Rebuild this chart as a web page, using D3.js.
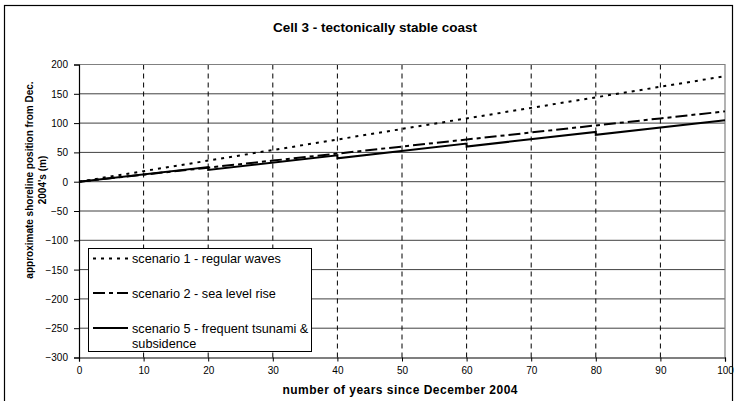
<!DOCTYPE html>
<html>
<head>
<meta charset="utf-8">
<script src="https://cdn.jsdelivr.net/npm/d3@7"></script>
<style>
  html, body { margin: 0; padding: 0; background: #fff; }
  svg { display: block; font-family: "Liberation Sans", Arial, sans-serif; }
</style>
</head>
<body>
<svg id="chart" width="734" height="401"></svg>
<script>
// ---- data ----
const chartTitle = "Cell 3 - tectonically stable coast";
const xTitle = "number of years since December 2004";
const yTitleLines = ["approximate shoreline position from Dec.", "2004's (m)"];
const xTicks = [0, 10, 20, 30, 40, 50, 60, 70, 80, 90, 100];
const yTicks = [-300, -250, -200, -150, -100, -50, 0, 50, 100, 150, 200];

const seriesNames = [
  "scenario 1 - regular waves",
  "scenario 2 - sea level rise",
  "scenario 5 - frequent tsunami & subsidence"
];
// scenario 1 and 2: values per decade
const s1Years = [0, 10, 20, 30, 40, 50, 60, 70, 80, 90, 100];
const s1Values = [0, 18, 36, 54, 72, 90, 108, 126, 144, 162, 180];
const s2Years = [0, 10, 20, 30, 40, 50, 60, 70, 80, 90, 100];
const s2Values = [0, 12, 24, 36, 48, 60, 72, 84, 96, 108, 120];
// scenario 5: steady advance with sudden drops every 20 years
const s5Years = [0, 20, 20, 40, 40, 60, 60, 80, 80, 100];
const s5Values = [0, 25, 20, 45, 40, 65, 60, 85, 80, 105];

// ---- layout ----
const svg = d3.select("#chart");
const L = 79, R = 725, T = 64.5, B = 357.5;
const x = d3.scaleLinear().domain([0, 100]).range([L, R]);
const y = d3.scaleLinear().domain([-300, 200]).range([B, T]);

// outer chart border
svg.append("rect").attr("x", 4.5).attr("y", 5.5).attr("width", 728).attr("height", 400)
  .attr("fill", "#fff").attr("stroke", "#000").attr("stroke-width", 1.2);

// horizontal gridlines
svg.append("g").selectAll("line").data(yTicks.filter(d => d > -300 && d < 200)).join("line")
  .attr("x1", L).attr("x2", R).attr("y1", d => y(d)).attr("y2", d => y(d))
  .attr("stroke", "#000").attr("stroke-width", 1).attr("stroke-opacity", 0.75);

// vertical dashed gridlines
svg.append("g").selectAll("line").data(xTicks.filter(d => d > 0 && d < 100)).join("line")
  .attr("x1", d => x(d)).attr("x2", d => x(d)).attr("y1", T).attr("y2", B)
  .attr("stroke", "#000").attr("stroke-width", 1).attr("stroke-dasharray", "5,4");

// plot area border (top & right gray)
svg.append("path")
  .attr("d", `M${L},${T}H${R}V${B}`)
  .attr("fill", "none").attr("stroke", "#808080").attr("stroke-width", 1.2);

// axes
const xAxis = d3.axisBottom(x).tickValues(xTicks).tickSize(4).tickPadding(5);
const yAxis = d3.axisLeft(y).tickValues(yTicks).tickSize(5).tickPadding(6);
const gx = svg.append("g").attr("transform", `translate(0,${B})`).call(xAxis);
const gy = svg.append("g").attr("transform", `translate(${L},0)`).call(yAxis);
[gx, gy].forEach(g => {
  g.select(".domain").attr("stroke", "#000").attr("stroke-width", 1.2);
  g.selectAll(".tick line").attr("stroke", "#000");
  g.selectAll(".tick text").attr("fill", "#000").attr("font-size", 10)
    .attr("font-family", "Liberation Sans, Arial, sans-serif");
});
gy.selectAll(".tick text").attr("dy", "0.34em");

// series lines
const line = d3.line().x(d => x(d[0])).y(d => y(d[1]));
const styles = [
  { dash: "3,5" },
  { dash: "12,4,4,4" },
  { dash: null }
];
const seriesData = [
  d3.zip(s1Years, s1Values),
  d3.zip(s2Years, s2Values),
  d3.zip(s5Years, s5Values)
];
seriesData.forEach((data, i) => {
  svg.append("path").datum(data).attr("d", line)
    .attr("fill", "none").attr("stroke", "#000").attr("stroke-width", 2)
    .attr("stroke-dasharray", styles[i].dash);
});

// legend
const lg = svg.append("g");
lg.append("rect").attr("x", 88.5).attr("y", 248.5).attr("width", 223).attr("height", 103)
  .attr("fill", "#fff").attr("stroke", "#000").attr("stroke-width", 1);
const rowsY = [258.5, 293, 328];
seriesNames.forEach((name, i) => {
  lg.append("line").attr("x1", 93).attr("x2", 128).attr("y1", rowsY[i]).attr("y2", rowsY[i])
    .attr("stroke", "#000").attr("stroke-width", 2).attr("stroke-dasharray", styles[i].dash);
  const words = i === 2 ? ["scenario 5 - frequent tsunami &", "subsidence"] : [name];
  const t = lg.append("text").attr("x", 132).attr("y", rowsY[i] + 4.5)
    .attr("font-size", 12.7).attr("fill", "#000");
  words.forEach((w, j) => t.append("tspan").attr("x", 132).attr("dy", j === 0 ? 0 : 15).text(w));
});

// title (centered on chart area)
svg.append("text").attr("x", 375).attr("y", 31.5).attr("text-anchor", "middle")
  .attr("font-size", 13.5).attr("font-weight", "bold").text(chartTitle);

// x axis title
svg.append("text").attr("x", 400).attr("y", 394).attr("text-anchor", "middle")
  .attr("font-size", 12).attr("font-weight", "bold")
  .attr("textLength", 235).attr("lengthAdjust", "spacing").text(xTitle);

// y axis title (two lines)
const yt = svg.append("text").attr("transform", "translate(0,180) rotate(-90)")
  .attr("text-anchor", "middle").attr("font-size", 10).attr("font-weight", "bold");
yTitleLines.forEach((l, j) => yt.append("tspan").attr("x", 0).attr("y", 33 + j * 13).text(l));
</script>
</body>
</html>
